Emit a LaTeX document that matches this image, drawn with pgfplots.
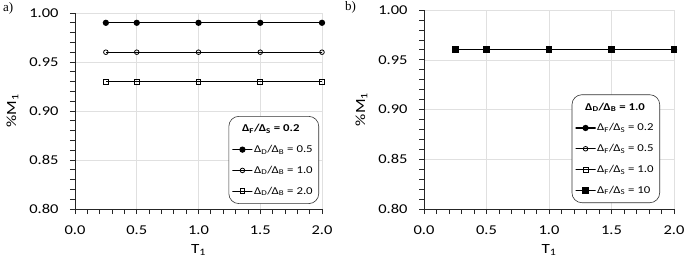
\documentclass[border=0pt]{standalone}
\usepackage{fontspec}
\setmainfont{Carlito}[FakeStretch=1.22]
\newfontfamily\serif{Liberation Serif}
\usepackage{pgfplots}
\pgfplotsset{compat=1.18}

\pgfplotsset{
  mpanel/.style={
    scale only axis,
    width=247pt, height=196pt,
    xmin=0, xmax=2, ymin=0.80, ymax=1.00,
    axis lines=left,
    axis line style={-, line width=0.9pt, black!85},
    xtick={0,0.5,...,2.0}, ytick={0.80,0.85,...,1.001},
    minor x tick num=4, minor y tick num=4,
    tick align=outside,
    major tick length=5pt, minor tick length=5pt,
    tick style={black!85, line width=0.7pt},
    xmajorgrids, ymajorgrids,
    major grid style={black!12, line width=0.5pt},
    /pgf/number format/assume math mode=true,
    tick label style={font=\fontsize{13.5}{15}\selectfont},
    xticklabel style={yshift=-8pt, /pgf/number format/.cd, fixed, fixed zerofill, precision=1},
    yticklabel style={xshift=-8pt, /pgf/number format/.cd, fixed, fixed zerofill, precision=2},
    label style={font=\fontsize{14}{16}\selectfont},
    xlabel={T\textsubscript{1}},
    ylabel={\%M\textsubscript{1}},
    xlabel style={yshift=-3pt},
    ylabel style={yshift=4pt},
    legend cell align=left,
    legend style={
      font=\fontsize{10.5}{12}\selectfont,
      rounded corners=10pt, draw=black!80, line width=0.6pt,
      row sep=8pt, inner xsep=4pt, inner ysep=6pt,
      /tikz/every even column/.append style={column sep=-1pt},
      legend image post style={line width=1.2pt}
    },
    legend image code/.code={
      \draw[mark repeat=2,mark phase=2] plot coordinates {(0pt,0pt) (9pt,0pt) (18pt,0pt)};
    },
  },
  lineA/.style={black, line width=1.2pt, mark=*, mark size=2.5pt, mark options={solid, fill=black}},
  lineB/.style={black, line width=1.2pt, mark=o, mark size=2.3pt, mark options={solid, line width=0.8pt, fill=white}},
  lineC/.style={black, line width=1.2pt, mark=square, mark size=2.4pt, mark options={solid, line width=0.8pt, fill=white}},
  lineD/.style={black, line width=1.2pt, mark=square*, mark size=2.8pt, mark options={solid, fill=black}},
}

\begin{document}
\begin{tikzpicture}
\useasboundingbox (-75pt,-54pt) rectangle (618pt,209pt);

% panel a): effect of the ratio Delta_D/Delta_B
\begin{axis}[mpanel, at={(0,0)}, anchor=origin,
  legend style={at={(0.988,0.026)}, anchor=south east}]
  \addlegendimage{empty legend}
  \addlegendentry{\hspace*{-12pt}\textbf{Δ\textsubscript{F}/Δ\textsubscript{S} = 0.2}}
  \addplot[lineA] coordinates {(0.25,0.99) (0.5,0.99) (1.0,0.99) (1.5,0.99) (2.0,0.99)};
  \addlegendentry{Δ\textsubscript{D}/Δ\textsubscript{B} = 0.5}
  \addplot[lineB] coordinates {(0.25,0.96) (0.5,0.96) (1.0,0.96) (1.5,0.96) (2.0,0.96)};
  \addlegendentry{Δ\textsubscript{D}/Δ\textsubscript{B} = 1.0}
  \addplot[lineC] coordinates {(0.25,0.93) (0.5,0.93) (1.0,0.93) (1.5,0.93) (2.0,0.93)};
  \addlegendentry{Δ\textsubscript{D}/Δ\textsubscript{B} = 2.0}
\end{axis}

% panel b): effect of the ratio Delta_F/Delta_S
\begin{axis}[mpanel, at={(349pt,0)}, anchor=origin, width=250pt, height=199pt,
  legend style={at={(0.944,0.03)}, anchor=south east}]
  \addlegendimage{empty legend}
  \addlegendentry{\hspace*{-12pt}\textbf{Δ\textsubscript{D}/Δ\textsubscript{B} = 1.0}}
  \addplot[lineA] coordinates {(0.25,0.96) (0.5,0.96) (1.0,0.96) (1.5,0.96) (2.0,0.96)};
  \addlegendentry{Δ\textsubscript{F}/Δ\textsubscript{S} = 0.2}
  \addplot[lineB] coordinates {(0.25,0.96) (0.5,0.96) (1.0,0.96) (1.5,0.96) (2.0,0.96)};
  \addlegendentry{Δ\textsubscript{F}/Δ\textsubscript{S} = 0.5}
  \addplot[lineC] coordinates {(0.25,0.96) (0.5,0.96) (1.0,0.96) (1.5,0.96) (2.0,0.96)};
  \addlegendentry{Δ\textsubscript{F}/Δ\textsubscript{S} = 1.0}
  \addplot[lineD] coordinates {(0.25,0.96) (0.5,0.96) (1.0,0.96) (1.5,0.96) (2.0,0.96)};
  \addlegendentry{Δ\textsubscript{F}/Δ\textsubscript{S} = 10}
\end{axis}

% panel letters
\node[font=\serif\fontsize{13}{15}\selectfont, anchor=north west, inner sep=0pt]
  at (-72pt,207pt) {a)};
\node[font=\serif\fontsize{13}{15}\selectfont, anchor=north west, inner sep=0pt]
  at (270pt,208pt) {b)};
\end{tikzpicture}
\end{document}
